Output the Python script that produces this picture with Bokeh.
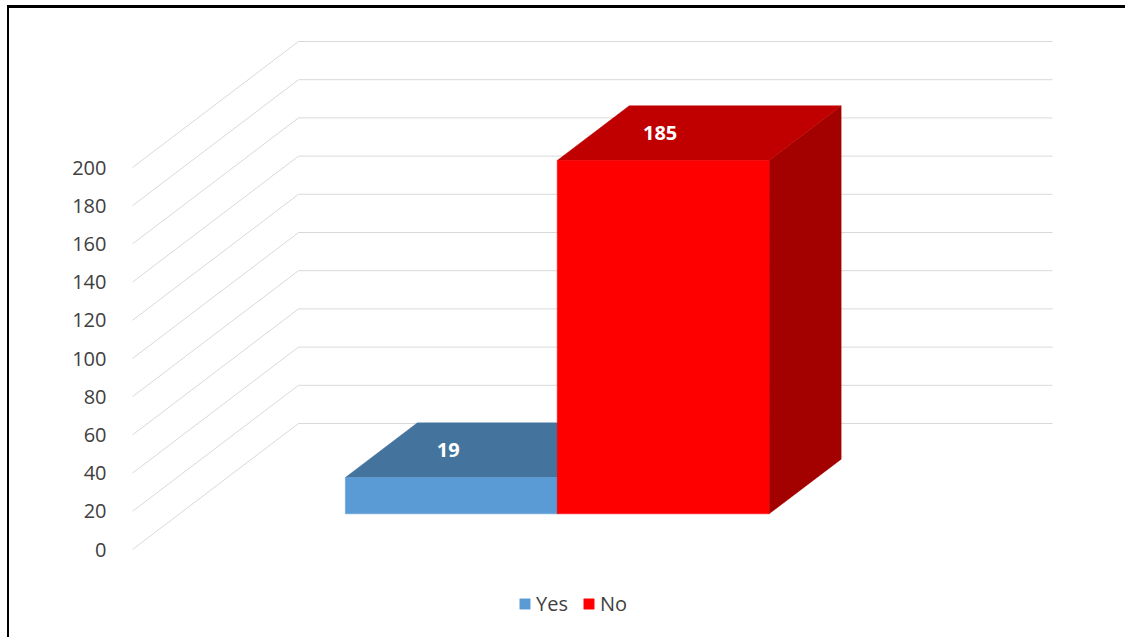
from bokeh.plotting import figure
from bokeh.models import Range1d, FixedTicker, Legend, LegendItem
from bokeh.core.properties import value
from bokeh.embed import file_html
from bokeh.resources import INLINE

# ---- data ----
categories = ["Yes", "No"]
counts = [19, 185]
front_colors = ["#5B9BD5", "#FF0000"]
top_colors = ["#44749E", "#C00000"]
side_colors = ["#3A6690", "#A30000"]
y_ticks = [0, 20, 40, 60, 80, 100, 120, 140, 160, 180, 200]

# ---- layout constants (pixels) ----
W, H = 1118, 632
LEFT = 120            # frame left on canvas
PX_PER_VAL = 1.91     # vertical pixels per unit
ZERO_Y = 541          # canvas y of value 0 on the front plane
X0 = 123              # canvas x of floor front-left corner
FLOOR_W = 754         # floor width in pixels
DEPTH_DX, DEPTH_DY = 166, 126

y_range = Range1d(-(H - ZERO_Y) / PX_PER_VAL, ZERO_Y / PX_PER_VAL)
x_range = Range1d((LEFT - X0) / FLOOR_W, (W - X0) / FLOOR_W)
dxd = DEPTH_DX / FLOOR_W
dyd = DEPTH_DY / PX_PER_VAL

p = figure(width=W, height=H, x_range=x_range, y_range=y_range,
           output_backend="svg", toolbar_location=None,
           x_axis_location=None, min_border_left=LEFT, min_border_right=0,
           min_border_top=0, min_border_bottom=0)
p.grid.visible = False
p.outline_line_color = None
p.background_fill_color = "white"
p.border_fill_color = "white"
p.styles = {"border-left": "2px solid black", "border-top": "3px solid black",
            "margin-top": "5px", "margin-left": "7px"}

ax = p.yaxis[0]
ax.ticker = FixedTicker(ticks=y_ticks)
ax.axis_line_color = None
ax.major_tick_line_color = None
ax.minor_tick_line_color = None
ax.major_label_standoff = 17
ax.major_label_text_font = "Open Sans"
ax.major_label_text_font_size = "20px"
ax.major_label_text_color = "#404040"

# walls gridlines
p.segment(x0=[0] * len(y_ticks), y0=y_ticks,
          x1=[dxd] * len(y_ticks), y1=[v + dyd for v in y_ticks],
          line_color="#D9D9D9", line_width=1)
p.segment(x0=[dxd] * len(y_ticks), y0=[v + dyd for v in y_ticks],
          x1=[1 + dxd] * len(y_ticks), y1=[v + dyd for v in y_ticks],
          line_color="#D9D9D9", line_width=1)

# bars
bar_start, bar_w = 0.22, 0.281
t_f, t_b = 0.283, 0.717
items = []
label_x, label_y = [], []
for i, (cat, v) in enumerate(zip(categories, counts)):
    xa = bar_start + i * bar_w
    xb = xa + bar_w
    # side face
    p.patch([xb + t_f * dxd, xb + t_b * dxd, xb + t_b * dxd, xb + t_f * dxd],
            [t_f * dyd, t_b * dyd, v + t_b * dyd, v + t_f * dyd],
            fill_color=side_colors[i], line_color=side_colors[i], line_width=0.5)
    # top face
    p.patch([xa + t_f * dxd, xb + t_f * dxd, xb + t_b * dxd, xa + t_b * dxd],
            [v + t_f * dyd, v + t_f * dyd, v + t_b * dyd, v + t_b * dyd],
            fill_color=top_colors[i], line_color=top_colors[i], line_width=0.5)
    # front face
    r = p.patch([xa + t_f * dxd, xb + t_f * dxd, xb + t_f * dxd, xa + t_f * dxd],
                [t_f * dyd, t_f * dyd, v + t_f * dyd, v + t_f * dyd],
                fill_color=front_colors[i], line_color=front_colors[i], line_width=0.5)
    items.append(LegendItem(label=cat, renderers=[r]))
    label_x.append((xa + xb) / 2 + t_f * dxd - 0.004)
    label_y.append(v + 0.5 * dyd)

p.text(x=label_x, y=label_y, text=[str(c) for c in counts],
       text_align="center", text_baseline="middle",
       text_font=value("Open Sans"), text_font_style="bold",
       text_font_size="20px", text_color="white")

legend = Legend(items=items, orientation="horizontal", location=(389, 23),
                border_line_color=None, background_fill_alpha=0,
                padding=0, margin=0, spacing=14, label_standoff=5,
                glyph_width=13, glyph_height=13,
                label_text_font="Open Sans", label_text_font_size="20px",
                label_text_color="#404040")
p.add_layout(legend)

open("out.html", "w").write(file_html(p, INLINE))
